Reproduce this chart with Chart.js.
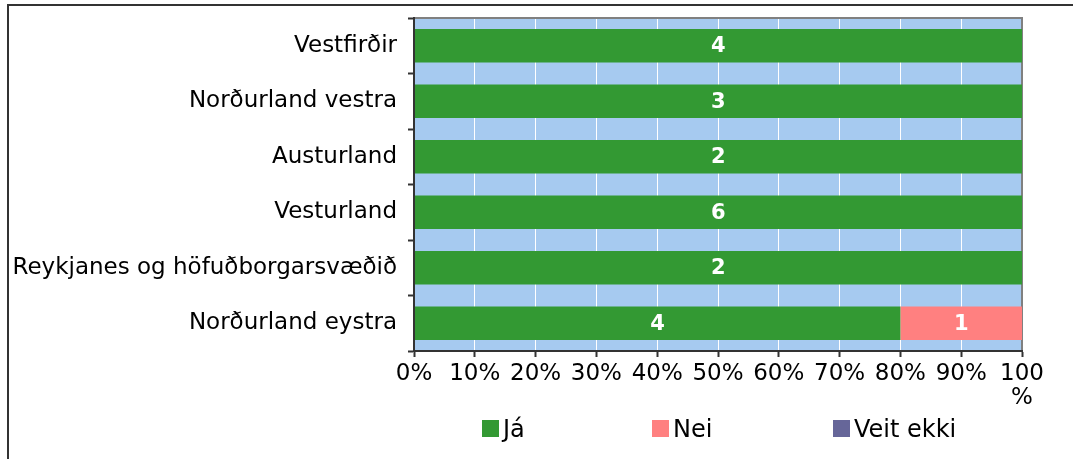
<!DOCTYPE html>
<html>
<head>
<meta charset="utf-8">
<script src="https://cdn.jsdelivr.net/npm/chart.js@4/dist/chart.umd.min.js"></script>
<style>
  html, body { margin: 0; padding: 0; background: #fff; }
  canvas { display: block; }
</style>
</head>
<body>
<canvas id="grafico" width="1073" height="459"></canvas>
<script>
// Landshlutar (ofan frá og niður)
const landshlutar = ['Vestfirðir', 'Norðurland vestra', 'Austurland', 'Vesturland', 'Reykjanes og höfuðborgarsvæðið', 'Norðurland eystra'];
// Fjöldi svara
const fjoldiJa = [4, 3, 2, 6, 2, 4];
const fjoldiNei = [0, 0, 0, 0, 0, 1];
const fjoldiVeitEkki = [0, 0, 0, 0, 0, 0];
const xTikk = [0, 10, 20, 30, 40, 50, 60, 70, 80, 90, 100];

const samtals = landshlutar.map((_, i) => fjoldiJa[i] + fjoldiNei[i] + fjoldiVeitEkki[i]);
const hlutfall = arr => arr.map((v, i) => v / samtals[i] * 100);

const leturgerd = '"DejaVu Sans", Verdana, sans-serif';

// Bakgrunnur, rammi og gráar brúnir
const bakgrunnur = {
    id: 'bakgrunnur',
    beforeDraw(chart) {
        const { ctx, chartArea: a } = chart;
        ctx.save();
        ctx.fillStyle = '#A6CAF0';
        ctx.fillRect(a.left, a.top, a.right - a.left, a.bottom - a.top);
        // ytri rammi
        ctx.strokeStyle = '#333333';
        ctx.lineWidth = 2;
        ctx.beginPath();
        ctx.moveTo(8, 459);
        ctx.lineTo(8, 5);
        ctx.lineTo(1073, 5);
        ctx.stroke();
        ctx.restore();
    },
    beforeDatasetsDraw(chart) {
        const { ctx, chartArea: a } = chart;
        ctx.save();
        ctx.strokeStyle = '#808080';
        ctx.lineWidth = 2;
        ctx.beginPath();
        ctx.moveTo(a.left, a.top);
        ctx.lineTo(a.right, a.top);
        ctx.lineTo(a.right, a.bottom);
        ctx.stroke();
        ctx.restore();
    }
};

// Tölur inni í súlunum
const tolur = {
    id: 'tolur',
    afterDatasetsDraw(chart) {
        const ctx = chart.ctx;
        ctx.save();
        ctx.fillStyle = '#ffffff';
        ctx.font = 'bold 21px ' + leturgerd;
        ctx.textAlign = 'center';
        ctx.textBaseline = 'middle';
        chart.data.datasets.forEach((ds, d) => {
            const meta = chart.getDatasetMeta(d);
            meta.data.forEach((bar, i) => {
                const n = ds.fjoldi[i];
                if (!n) return;
                ctx.fillText(String(n), (bar.x + bar.base) / 2, bar.y + 1);
            });
        });
        ctx.restore();
    }
};

// Skýringar neðst
const skyringar = {
    id: 'skyringar',
    afterDraw(chart) {
        const ctx = chart.ctx;
        const xStadir = [482, 652, 833];
        ctx.save();
        ctx.font = '24px ' + leturgerd;
        ctx.textBaseline = 'middle';
        ctx.textAlign = 'left';
        chart.data.datasets.forEach((ds, d) => {
            const x = xStadir[d];
            ctx.fillStyle = ds.backgroundColor;
            ctx.fillRect(x, 420, 17, 17);
            ctx.fillStyle = '#000000';
            ctx.fillText(ds.label, x + 21, 431);
        });
        ctx.restore();
    }
};

new Chart(document.getElementById('grafico'), {
    type: 'bar',
    data: {
        labels: landshlutar,
        datasets: [
            { label: 'Já', data: hlutfall(fjoldiJa), fjoldi: fjoldiJa, backgroundColor: '#339933' },
            { label: 'Nei', data: hlutfall(fjoldiNei), fjoldi: fjoldiNei, backgroundColor: '#FF8080' },
            { label: 'Veit ekki', data: hlutfall(fjoldiVeitEkki), fjoldi: fjoldiVeitEkki, backgroundColor: '#666699' }
        ]
    },
    options: {
        indexAxis: 'y',
        responsive: false,
        animation: false,
        devicePixelRatio: 1,
        barPercentage: 0.6,
        categoryPercentage: 1,
        layout: { padding: { left: 0, right: 51, top: 18, bottom: 0 } },
        plugins: {
            legend: { display: false },
            tooltip: { enabled: false }
        },
        scales: {
            x: {
                stacked: true,
                min: 0,
                max: 100,
                afterBuildTicks: scale => { scale.ticks = xTikk.map(v => ({ value: v })); },
                afterFit: scale => { scale.height = 108; },
                grid: {
                    color: c => c.index === 0 ? 'rgba(0,0,0,0)' : '#ffffff',
                    lineWidth: 1,
                    tickColor: '#333333',
                    tickWidth: 2,
                    tickLength: 6
                },
                border: { color: '#333333', width: 2, z: 1 },
                ticks: {
                    autoSkip: false,
                    maxRotation: 0,
                    padding: 5,
                    color: '#000000',
                    font: { family: leturgerd, size: 23, lineHeight: 1.05 },
                    callback: v => v === 100 ? ['100', '%'] : v + '%'
                }
            },
            y: {
                stacked: true,
                afterFit: scale => {
                    scale.width = 414;
                    scale.paddingTop = 0;
                    scale.paddingBottom = 0;
                },
                grid: {
                    offset: true,
                    drawOnChartArea: false,
                    tickColor: '#333333',
                    tickWidth: 2,
                    tickLength: 6
                },
                border: { color: '#333333', width: 2, z: 1 },
                ticks: {
                    padding: 11,
                    color: '#000000',
                    font: { family: leturgerd, size: 23 }
                }
            }
        }
    },
    plugins: [bakgrunnur, tolur, skyringar]
});
</script>
</body>
</html>
